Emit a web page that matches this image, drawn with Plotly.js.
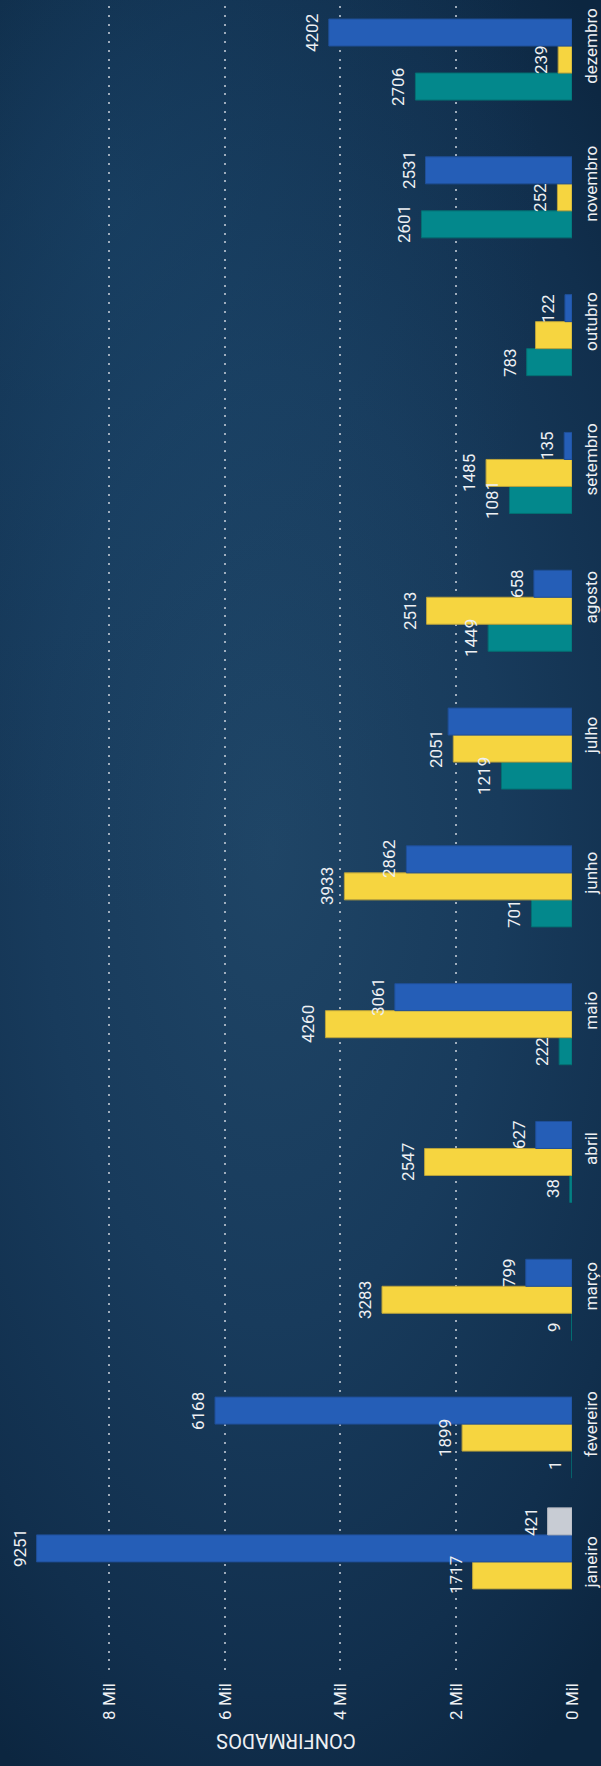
<!DOCTYPE html>
<html>
<head>
<meta charset="utf-8">
<script src="https://cdn.plot.ly/plotly-3.0.1.min.js"></script>
<style>
  html, body { margin: 0; padding: 0; }
  body {
    width: 601px; height: 1766px; overflow: hidden; position: relative;
    background:
      radial-gradient(ellipse 70% 40% at 20% 12%, rgba(30,80,120,0.35) 0%, rgba(30,80,120,0) 100%),
      radial-gradient(ellipse 85% 60% at 45% 48%, #1f4566 0%, #183b5c 45%, #112f4d 80%, #0c2640 100%);
  }
  #chart {
    position: absolute; left: 0; top: 0;
    width: 1766px; height: 601px;
    transform-origin: 0 0;
    transform: translate(0px, 1766px) rotate(-90deg);
  }
</style>
</head>
<body>
<div id="chart"></div>
<script>
// ---- data ----
const months = ['janeiro','fevereiro','março','abril','maio','junho','julho','agosto','setembro','outubro','novembro','dezembro'];
const seriesNames = ['2020','2021','2022','2023'];
const values2020 = [null, 1, 9, 38, 222, 701, 1219, 1449, 1081, 783, 2601, 2706];
const values2021 = [1717, 1899, 3283, 2547, 4260, 3933, 2051, 2513, 1485, 630, 252, 239];
const values2022 = [9251, 6168, 799, 627, 3061, 2862, 2140, 658, 135, 122, 2531, 4202];
const values2023 = [421, null, null, null, null, null, null, null, null, null, null, null];
const valueTicks = [0, 2000, 4000, 6000, 8000];
const valueTickLabels = ['0 Mil', '2 Mil', '4 Mil', '6 Mil', '8 Mil'];
const axisTitle = 'CONFIRMADOS';
// labels hidden in the original because they collide with a neighbour label
const hiddenLabels = [['2022', 'julho'], ['2021', 'outubro']];

// ---- style ----
const colors = ['#03888c', '#f6d540', '#255eb7', '#c8ccd4'];
const lineColors = ['#046f72', '#b9a23c', '#1f4f98', '#b4b8c0'];
const textColor = '#eef0f3';
const BARGAP = 0.216;

const allValues = [values2020, values2021, values2022, values2023];
const traces = allValues.map((vals, k) => ({
  type: 'bar',
  name: seriesNames[k],
  x: months,
  y: vals,
  marker: { color: colors[k], line: { color: lineColors[k], width: 1 } },
  hoverinfo: 'x+y+name'
}));

const slot = (1 - BARGAP) / seriesNames.length;
const annotations = [];
allValues.forEach((vals, k) => {
  vals.forEach((v, i) => {
    if (v === null || v === undefined) return;
    if (hiddenLabels.some(h => h[0] === seriesNames[k] && h[1] === months[i])) return;
    annotations.push({
      xref: 'x', yref: 'y',
      x: i + (k - (seriesNames.length - 1) / 2) * slot,
      y: v,
      text: String(v),
      showarrow: false,
      xanchor: 'center', yanchor: 'bottom',
      yshift: 5,
      font: { family: 'Roboto, sans-serif', size: 17, color: textColor }
    });
  });
});

const layout = {
  width: 1766, height: 601,
  margin: { l: 96, r: 0, t: 0, b: 29, pad: 0 },
  paper_bgcolor: 'rgba(0,0,0,0)',
  plot_bgcolor: 'rgba(0,0,0,0)',
  barmode: 'group',
  bargap: BARGAP,
  bargroupgap: 0,
  showlegend: false,
  font: { family: 'Roboto, sans-serif', color: textColor },
  xaxis: {
    type: 'category',
    categoryorder: 'array', categoryarray: months,
    range: [-0.7845, 11.334],
    showgrid: false, zeroline: false, showline: false,
    ticks: '', ticklabelstandoff: 7,
    tickfont: { family: 'Roboto, sans-serif', size: 17, color: textColor },
    automargin: false
  },
  yaxis: {
    range: [0, 9883],
    tickvals: valueTicks,
    ticktext: valueTickLabels,
    showgrid: true,
    gridcolor: 'rgba(205,212,222,0.75)',
    gridwidth: 2,
    griddash: '2px,6.7px',
    zeroline: false, showline: false,
    ticks: '', ticklabelstandoff: 12,
    tickfont: { family: 'Roboto, sans-serif', size: 17, color: textColor },
    title: { text: axisTitle, standoff: 8, font: { family: 'Roboto, sans-serif', size: 20, color: textColor } },
    automargin: false
  },
  annotations: annotations
};

Plotly.newPlot('chart', traces, layout, { displayModeBar: false, staticPlot: true });
</script>
</body>
</html>
